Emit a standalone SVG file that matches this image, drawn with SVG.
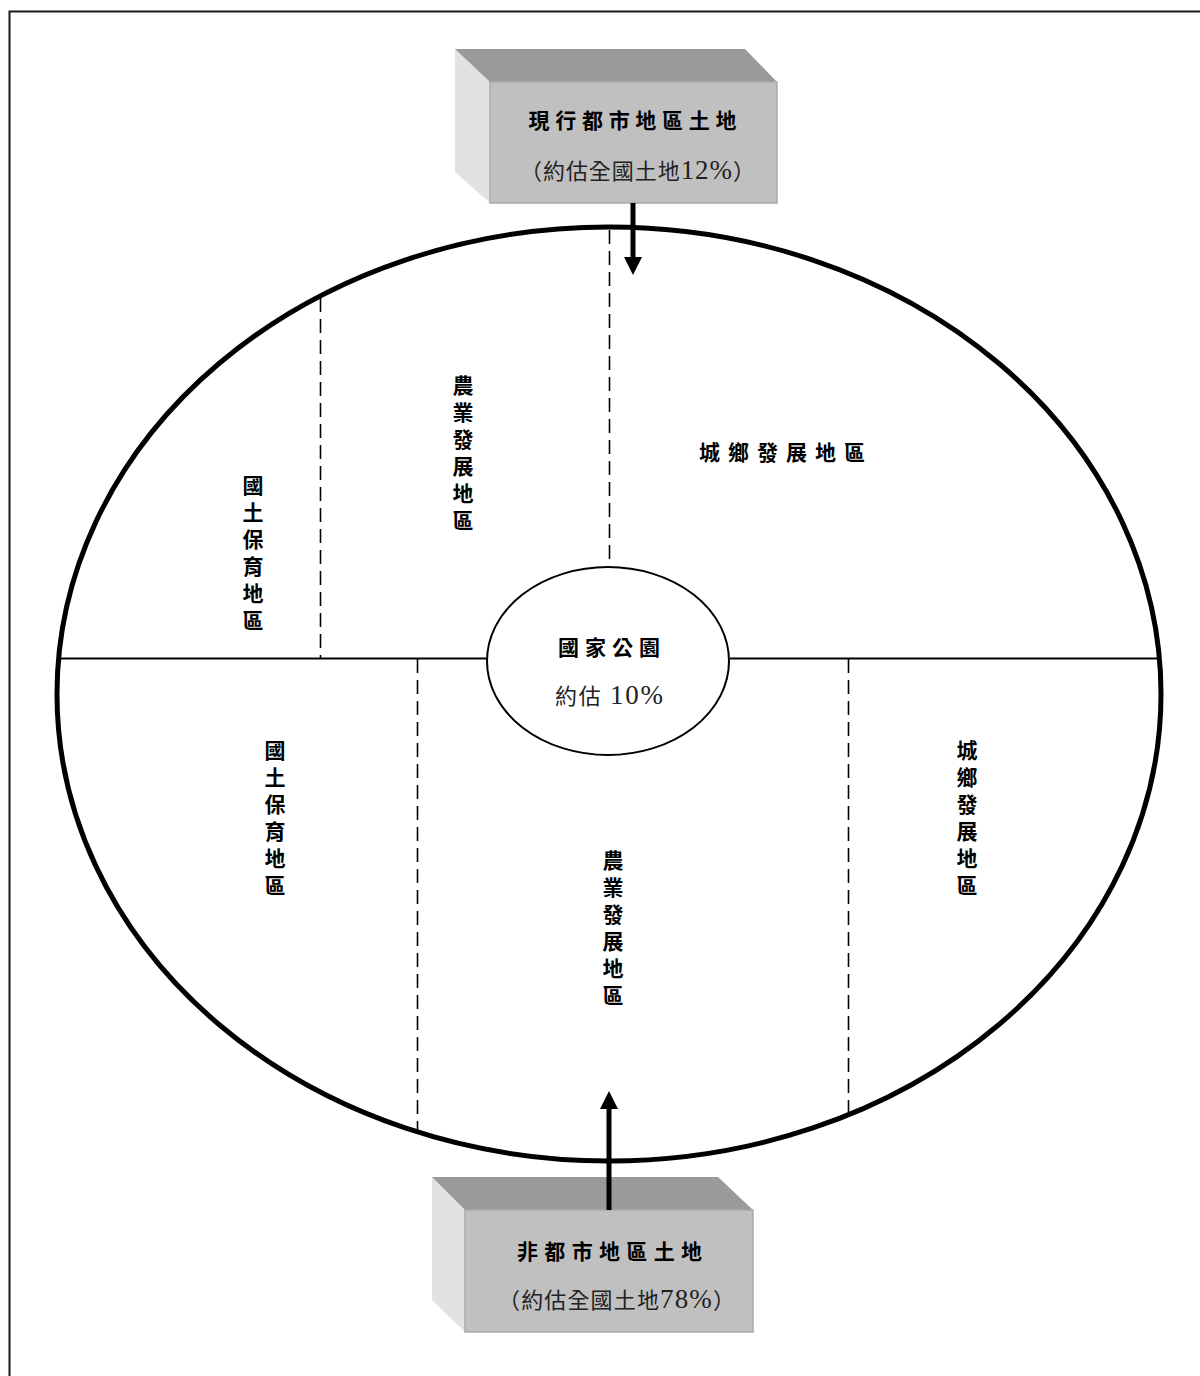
<svg xmlns="http://www.w3.org/2000/svg" width="1200" height="1376" viewBox="0 0 1200 1376">
<defs>
<style>
.frame{stroke:#1a1a1a;stroke-width:2;fill:none}
.outline{fill:#fff;stroke:#000;stroke-width:5}
.park{fill:#fff;stroke:#000;stroke-width:2}
.solid{stroke:#000;stroke-width:2;fill:none}
.dash{stroke:#000;stroke-width:1.6;fill:none;stroke-dasharray:14 7}
.top{fill:#9a9a9a}
.front{fill:#c0c0c0;stroke:#aaaaaa;stroke-width:1.5}
.side{fill:#e2e2e2}
.arrow{stroke:#000;stroke-width:5;fill:none}
.lbl{font-family:"Liberation Serif","Noto Sans CJK TC",serif;font-size:21px;font-weight:bold;fill:#000;text-anchor:middle}
.sub{font-family:"Liberation Serif","Noto Sans CJK TC",serif;font-size:22px;fill:#222;text-anchor:middle}
.num{font-size:27px}
</style>
<marker id="ah" markerUnits="userSpaceOnUse" viewBox="0 0 18 18" markerWidth="18" markerHeight="18" refX="0" refY="9" orient="auto">
<path d="M0,0 L18,9 L0,18 z" fill="#000"/>
</marker>
</defs>
<rect width="1200" height="1376" fill="#fff"/>
<path class="frame" d="M9.5,1376 V11.5 H1200"/>

<g id="land-plan">
<ellipse class="outline" cx="609" cy="694" rx="552" ry="467"/>
<line class="solid" x1="58" y1="658.5" x2="488" y2="658.5"/>
<line class="solid" x1="730" y1="658.5" x2="1159" y2="658.5"/>
<line class="dash" x1="320.5" y1="298" x2="320.5" y2="658"/>
<line class="dash" x1="609.5" y1="230" x2="609.5" y2="567"/>
<line class="dash" x1="417.5" y1="659" x2="417.5" y2="1131"/>
<line class="dash" x1="848.5" y1="659" x2="848.5" y2="1114"/>
</g>

<g id="zone-conservation-upper">
<text class="lbl"><tspan x="253" y="493">國</tspan><tspan x="253" y="520">土</tspan><tspan x="253" y="547">保</tspan><tspan x="253" y="574">育</tspan><tspan x="253" y="601">地</tspan><tspan x="253" y="628">區</tspan></text>
</g>
<g id="zone-agri-upper">
<text class="lbl"><tspan x="463" y="393">農</tspan><tspan x="463" y="420">業</tspan><tspan x="463" y="447">發</tspan><tspan x="463" y="474">展</tspan><tspan x="463" y="501">地</tspan><tspan x="463" y="528">區</tspan></text>
</g>
<g id="zone-urban-upper">
<text class="lbl" x="782" y="460" textLength="166" lengthAdjust="spacing">城鄉發展地區</text>
</g>
<g id="zone-conservation-lower">
<text class="lbl"><tspan x="275" y="758">國</tspan><tspan x="275" y="785">土</tspan><tspan x="275" y="812">保</tspan><tspan x="275" y="839">育</tspan><tspan x="275" y="866">地</tspan><tspan x="275" y="893">區</tspan></text>
</g>
<g id="zone-agri-lower">
<text class="lbl"><tspan x="613" y="868">農</tspan><tspan x="613" y="895">業</tspan><tspan x="613" y="922">發</tspan><tspan x="613" y="949">展</tspan><tspan x="613" y="976">地</tspan><tspan x="613" y="1003">區</tspan></text>
</g>
<g id="zone-urban-lower">
<text class="lbl"><tspan x="967" y="758">城</tspan><tspan x="967" y="785">鄉</tspan><tspan x="967" y="812">發</tspan><tspan x="967" y="839">展</tspan><tspan x="967" y="866">地</tspan><tspan x="967" y="893">區</tspan></text>
</g>

<g id="national-park">
<ellipse class="park" cx="608" cy="661" rx="121" ry="94"/>
<text class="lbl" x="609" y="655" textLength="102" lengthAdjust="spacing">國家公園</text>
<text class="sub" x="609" y="704" textLength="108" lengthAdjust="spacing">約估 <tspan class="num">10%</tspan></text>
</g>

<g id="urban-land">
<polygon class="side" points="455,49 490,82 490,203 455,172"/>
<polygon class="top" points="455,49 745,49 777,82 490,82"/>
<rect class="front" x="490" y="82" width="287" height="121"/>
<text class="lbl" x="632.5" y="128" textLength="208" lengthAdjust="spacing">現行都市地區土地</text>
<text class="sub" x="637.5" y="179" textLength="235" lengthAdjust="spacing">（約估全國土地<tspan class="num">12%</tspan>）</text>
</g>

<g id="non-urban-land">
<polygon class="side" points="432,1177 465,1210 465,1332 432,1300"/>
<polygon class="top" points="432,1177 718,1177 753,1210 465,1210"/>
<rect class="front" x="465" y="1210" width="288" height="122"/>
<text class="lbl" x="609.5" y="1259" textLength="185" lengthAdjust="spacing">非都市地區土地</text>
<text class="sub" x="616.5" y="1308" textLength="237" lengthAdjust="spacing">（約估全國土地<tspan class="num">78%</tspan>）</text>
</g>

<g id="connectors">
<line class="arrow" x1="633" y1="203" x2="633" y2="257" marker-end="url(#ah)"/>
<line class="arrow" x1="609" y1="1210" x2="609" y2="1109" marker-end="url(#ah)"/>
</g>
</svg>
